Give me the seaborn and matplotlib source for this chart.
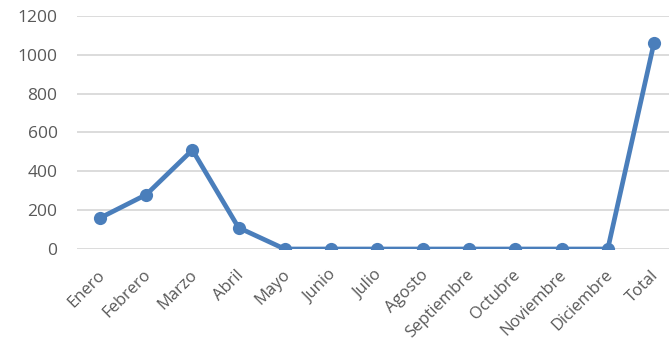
import matplotlib
matplotlib.use("Agg")
import matplotlib.pyplot as plt
import matplotlib.transforms as mtransforms
import seaborn as sns
import pandas as pd

categories = ["Enero", "Febrero", "Marzo", "Abril", "Mayo", "Junio", "Julio",
              "Agosto", "Septiembre", "Octubre", "Noviembre", "Diciembre", "Total"]
values = [160, 280, 510, 110, 0, 0, 0, 0, 0, 0, 0, 0, 1060]
yticks = [0, 200, 400, 600, 800, 1000, 1200]

sns.set_theme(style="white")
plt.rcParams['font.family'] = ['Open Sans', 'DejaVu Sans']

df = pd.DataFrame({"cat": categories, "val": values, "x": range(len(categories))})

fig = plt.figure(figsize=(6.69, 3.51), dpi=100)
ax = fig.add_axes([77/669, (351-249)/351, 600/669, (249-16)/351])

color = "#4A7EBB"
sns.lineplot(data=df, x="x", y="val", ax=ax, color=color, linewidth=3.4,
             marker="o", markersize=9.5, markeredgewidth=0, zorder=3)

ax.set_xlim(-0.5, 12.5)
ax.set_ylim(0, 1200)
ax.set_yticks(yticks)
ax.set_yticklabels([str(v) for v in yticks])
ax.set_xticks(range(len(categories)))
ax.set_xticklabels(categories, rotation=45, ha="right", rotation_mode="anchor")
ax.grid(axis="y", color="#D9D9D9", linewidth=1.3)
ax.set_axisbelow(True)
for s in ax.spines.values():
    s.set_visible(False)
ax.set_xlabel("")
ax.set_ylabel("")

ax.yaxis.set_tick_params(length=0, pad=14, labelsize=12.5, labelcolor="#595959")
ax.xaxis.set_tick_params(length=0, pad=13, labelsize=12, labelcolor="#595959")
for lab in ax.get_xticklabels():
    lab.set_transform(lab.get_transform() + mtransforms.ScaledTranslation(-3/100, 0, fig.dpi_scale_trans))

fig.savefig("out.png", dpi=100)
